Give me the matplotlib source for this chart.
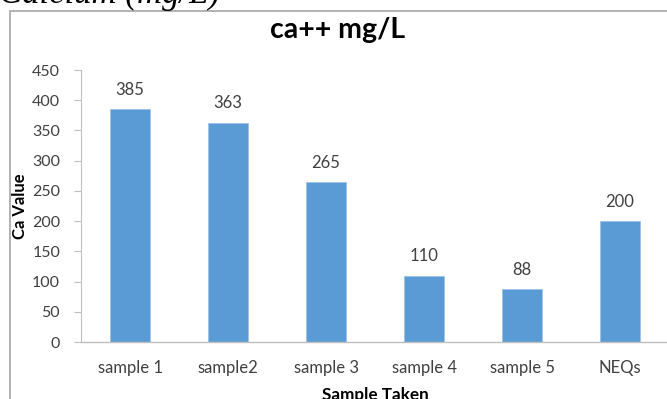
import numpy as np
import matplotlib as mpl
mpl.use('Agg')
import matplotlib.pyplot as plt
from matplotlib.patches import Rectangle

samples = ['sample 1', 'sample2', 'sample 3', 'sample 4', 'sample 5', 'NEQs']
ca_values = [385, 363, 265, 110, 88, 200]
y_ticks = [0, 50, 100, 150, 200, 250, 300, 350, 400, 450]

plt.rcParams['font.family'] = ['Lato', 'DejaVu Sans']

W, H = 667, 399
fig = plt.figure(figsize=(W / 100, H / 100), dpi=100)

# outer chart frame (cut off at right and bottom)
fig.patches.append(Rectangle((10 / W, -0.1), 1.2, 1 - 11 / H + 0.1,
                             transform=fig.transFigure, fill=False,
                             edgecolor='#a6a6a6', linewidth=1.2))

# caption cut at the top of the page
fig.text(-1 / W, 1 - 3 / H, 'Calcium (mg/L)', family='Liberation Serif',
         style='italic', fontsize=25, va='baseline', ha='left', color='black')

ax = fig.add_axes([81 / W, 1 - 342 / H, 588 / W, (342 - 70) / H])
x = np.arange(len(samples))
bars = ax.bar(x, ca_values, width=0.4, color='#5b9bd5', edgecolor='#9dc3e6',
              linewidth=0.6, zorder=2)

for xi, v in zip(x, ca_values):
    ax.annotate(str(v), (xi, v), xytext=(0, 8), textcoords='offset points',
                ha='center', va='bottom', fontsize=12, color='#404040')

ax.set_xlim(-0.5, len(samples) - 0.5)
ax.set_ylim(0, 450)
ax.set_yticks(y_ticks)
ax.set_xticks(x)
ax.set_xticklabels(samples)
ax.tick_params(axis='x', length=0, pad=13, labelsize=12, labelcolor='#404040')
ax.tick_params(axis='y', length=5, width=0.8, color='#bfbfbf', pad=10,
               labelsize=11.5, labelcolor='#404040')

for s in ['top', 'right']:
    ax.spines[s].set_visible(False)
ax.spines['left'].set_color('#bfbfbf')
ax.spines['bottom'].set_color('#bfbfbf')
ax.spines['bottom'].set_linewidth(1.0)

fig.text(338 / W, 1 - 30 / H, 'ca++ mg/L', fontsize=20.5, fontweight='bold',
         ha='center', va='center', color='black')
fig.text(20 / W, 1 - 206 / H, 'Ca Value', fontsize=12, fontweight='bold',
         rotation=90, ha='center', va='center', color='black')
fig.text(375 / W, 1 - 387 / H, 'Sample Taken', fontsize=12.3,
         fontweight='bold', ha='center', va='top', color='black')

fig.savefig('out.png', dpi=100)
